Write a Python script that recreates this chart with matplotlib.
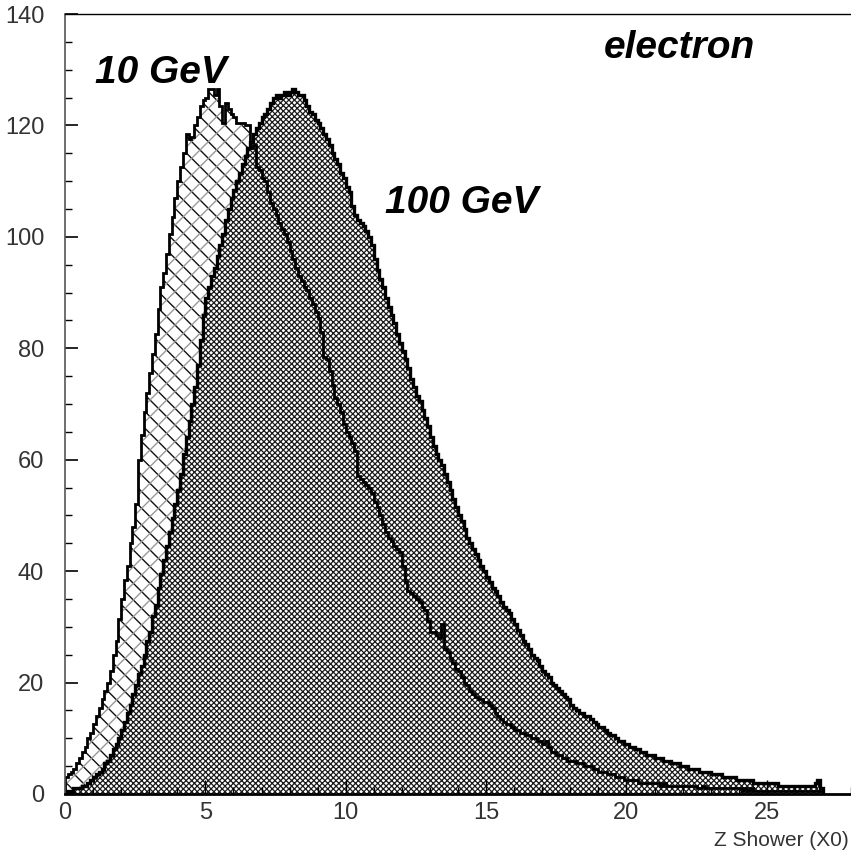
import matplotlib
matplotlib.use('Agg')
import matplotlib.pyplot as plt
import numpy as np
from matplotlib.ticker import MultipleLocator

# bin edges: 0.1 X0 wide bins from 0 to 27
bin_width = 0.1
n_bins = 270

# 10 GeV electron showers (entries per bin)
e10 = [
    3.0, 3.5, 4.0, 4.5, 5.5, 6.5, 7.5, 8.5, 10.0, 11.0,
    12.5, 14.0, 15.5, 17.0, 18.5, 20.0, 22.0, 25.0, 27.5, 31.5,
    35.0, 38.5, 41.0, 45.0, 48.0, 52.0, 60.0, 64.5, 68.5, 72.0,
    75.5, 79.0, 82.5, 87.0, 91.0, 93.5, 97.0, 100.5, 103.5, 107.0,
    110.0, 112.5, 115.0, 118.5, 117.5, 118.0, 120.0, 121.5, 123.5, 124.5,
    125.0, 126.5, 126.5, 125.5, 126.5, 123.5, 120.5, 124.0, 123.0, 122.0,
    121.5, 120.5, 120.5, 120.5, 120.0, 120.0, 116.0, 116.5, 112.5, 112.0,
    110.5, 110.0, 108.0, 106.0, 105.0, 104.0, 102.5, 101.5, 100.5, 99.0,
    97.5, 96.0, 94.5, 93.0, 92.0, 91.0, 90.5, 89.0, 88.0, 86.5,
    85.5, 83.0, 78.5, 78.0, 76.0, 73.5, 71.0, 70.0, 68.5, 66.5,
    65.0, 64.0, 63.0, 61.5, 57.0, 56.5, 56.0, 55.5, 55.0, 54.0,
    52.5, 51.5, 50.0, 48.5, 47.0, 46.0, 45.5, 44.5, 44.0, 43.5,
    41.0, 38.0, 36.5, 36.0, 35.5, 35.0, 34.5, 33.5, 33.0, 31.0,
    29.0, 29.0, 28.5, 28.0, 30.5, 26.0, 25.5, 24.5, 23.5, 22.5,
    22.0, 21.0, 20.0, 19.5, 18.5, 18.0, 17.5, 17.0, 17.0, 16.5,
    16.5, 16.0, 15.5, 14.5, 14.0, 13.5, 13.0, 12.5, 12.5, 12.0,
    11.5, 11.5, 11.0, 11.0, 10.5, 10.5, 10.0, 10.0, 9.5, 9.5,
    9.0, 9.5, 8.5, 7.5, 7.5, 7.0, 7.0, 6.5, 6.5, 6.0,
    6.0, 6.0, 5.5, 5.5, 5.5, 5.0, 5.0, 5.0, 4.5, 4.5,
    4.0, 4.0, 4.0, 3.5, 3.5, 3.5, 3.0, 3.0, 3.0, 2.5,
    2.5, 2.5, 2.5, 2.5, 2.0, 2.0, 2.0, 2.0, 2.0, 2.0,
    2.0, 2.0, 1.5, 2.0, 1.5, 1.5, 1.5, 1.5, 1.5, 1.5,
    1.5, 1.5, 1.5, 1.5, 1.5, 1.0, 1.0, 1.5, 1.0, 1.0,
    1.0, 1.0, 1.0, 1.0, 1.0, 1.0, 1.0, 1.0, 1.0, 1.0,
    1.0, 0.5, 1.0, 0.5, 1.0, 0.5, 0.5, 0.5, 0.5, 0.5,
    0.5, 0.5, 0.5, 0.5, 0.5, 0.5, 0.5, 0.5, 0.5, 0.5,
    0.5, 0.5, 0.5, 0.5, 0.5, 0.5, 0.5, 0.5, 0.5, 0.5,
]

# 100 GeV electron showers
e100 = [
    0.5, 0.5, 0.5, 1.0, 1.0, 1.0, 1.5, 1.5, 2.0, 2.5,
    3.0, 3.5, 4.0, 4.5, 5.5, 6.0, 7.0, 8.0, 9.0, 10.0,
    11.5, 13.0, 14.5, 16.0, 18.0, 19.5, 21.5, 23.0, 25.0, 27.5,
    29.0, 32.0, 34.0, 37.0, 39.5, 42.0, 44.5, 47.0, 49.5, 52.0,
    54.5, 57.5, 61.0, 64.0, 67.0, 70.0, 73.0, 77.0, 81.5, 86.0,
    89.0, 91.0, 93.0, 94.5, 96.5, 98.5, 100.5, 103.0, 105.0, 107.0,
    108.5, 110.0, 111.5, 113.0, 114.5, 116.0, 117.0, 118.5, 119.5, 120.5,
    121.5, 122.0, 123.0, 124.0, 125.0, 125.5, 125.0, 125.5, 126.0, 125.5,
    126.0, 126.5, 126.0, 125.5, 125.5, 124.5, 123.5, 122.5, 122.0, 121.0,
    120.5, 119.5, 118.5, 117.5, 116.5, 115.0, 114.0, 113.0, 111.5, 110.5,
    109.0, 108.0, 105.5, 104.0, 103.0, 102.5, 102.0, 101.0, 100.0, 98.5,
    96.0, 94.0, 92.5, 91.0, 89.0, 87.5, 86.0, 84.5, 82.5, 81.0,
    79.5, 78.0, 76.5, 74.5, 73.0, 71.5, 70.5, 69.0, 67.5, 66.0,
    64.0, 62.5, 61.0, 60.0, 59.0, 57.5, 56.0, 54.5, 53.0, 51.5,
    50.0, 49.0, 47.5, 46.0, 45.0, 44.0, 43.0, 42.0, 41.0, 40.0,
    39.0, 38.0, 37.0, 36.5, 35.5, 34.5, 33.5, 33.0, 32.5, 31.5,
    30.5, 29.5, 28.5, 27.5, 27.0, 26.0, 25.0, 24.5, 24.0, 23.0,
    22.0, 21.5, 21.0, 20.0, 19.5, 19.0, 18.5, 18.0, 17.5, 17.0,
    16.0, 15.5, 15.0, 14.5, 14.5, 14.0, 14.0, 13.5, 13.0, 12.5,
    12.0, 12.0, 11.5, 11.0, 10.5, 10.5, 10.0, 9.5, 9.5, 9.0,
    9.0, 8.5, 8.5, 8.0, 8.0, 7.5, 7.5, 7.0, 7.0, 7.0,
    6.5, 6.5, 6.5, 6.0, 6.0, 6.0, 5.5, 5.5, 5.5, 5.0,
    5.0, 5.0, 4.5, 4.5, 4.5, 4.5, 4.0, 4.0, 4.0, 4.0,
    3.5, 3.5, 3.5, 3.5, 3.0, 3.0, 3.0, 3.0, 3.0, 2.5,
    2.5, 2.5, 2.5, 2.5, 2.5, 2.0, 2.0, 2.0, 2.0, 2.0,
    2.0, 2.0, 2.0, 2.0, 1.5, 1.5, 1.5, 1.5, 1.5, 1.5,
    1.5, 1.5, 1.5, 1.5, 1.5, 1.5, 1.5, 2.0, 2.5, 1.0,
]

edges = np.arange(n_bins + 1) * bin_width

plt.rcParams['font.family'] = ['Liberation Sans', 'DejaVu Sans']

fig = plt.figure(figsize=(8.51, 8.58), dpi=100)
ax = fig.add_axes([0.0764, 0.0746, 0.9236, 0.909])

# 10 GeV: open cross-hatch, "\" lines dark and "/" lines grey
with plt.rc_context({'hatch.linewidth': 1.0}):
    ax.stairs(e10, edges, fill=True, facecolor='none', edgecolor='#111111',
              hatch='\\\\', linewidth=0)
    ax.stairs(e10, edges, fill=True, facecolor='none', edgecolor='#999999',
              hatch='//', linewidth=0)

# 100 GeV: opaque, dense cross-hatch that reads as mid grey
with plt.rc_context({'hatch.linewidth': 0.9}):
    ax.stairs(e100, edges, fill=True, facecolor='white', edgecolor='#1a1a1a',
              hatch='xxxxxx', linewidth=0)

# outlines
ax.stairs(e10, edges, color='black', linewidth=2.0)
ax.stairs(e100, edges, color='black', linewidth=2.4)

ax.set_xlim(0, 28)
ax.set_ylim(0, 140)

ax.xaxis.set_major_locator(MultipleLocator(5))
ax.xaxis.set_minor_locator(MultipleLocator(1))
ax.yaxis.set_major_locator(MultipleLocator(20))
ax.yaxis.set_minor_locator(MultipleLocator(5))
ax.tick_params(which='both', direction='in', top=False, right=False,
               labelsize=17, labelcolor='#333333')
ax.tick_params(axis='y', which='major', length=9, width=1.2, pad=15)
ax.tick_params(axis='y', which='minor', length=5, width=1.0)
ax.tick_params(axis='x', which='major', length=10, width=1.0, pad=6)
ax.tick_params(axis='x', which='minor', length=5, width=1.0)

ax.spines['right'].set_visible(False)
ax.spines['top'].set_linewidth(1.0)
ax.spines['left'].set_linewidth(1.2)
ax.spines['left'].set_color('#555555')
ax.spines['bottom'].set_linewidth(2.0)

lab = dict(fontsize=28, fontweight='bold', fontstyle='italic', va='baseline')
ax.text(1.07, 127.6, '10 GeV', **lab)
ax.text(11.4, 104.3, '100 GeV', **lab)
ax.text(19.2, 132.2, 'electron', **lab)

fig.text(0.997, 1 - 840 / 858, 'Z Shower (X0)', ha='right', va='center',
         fontsize=15, color='#333333')

fig.savefig('out.png', dpi=100)
